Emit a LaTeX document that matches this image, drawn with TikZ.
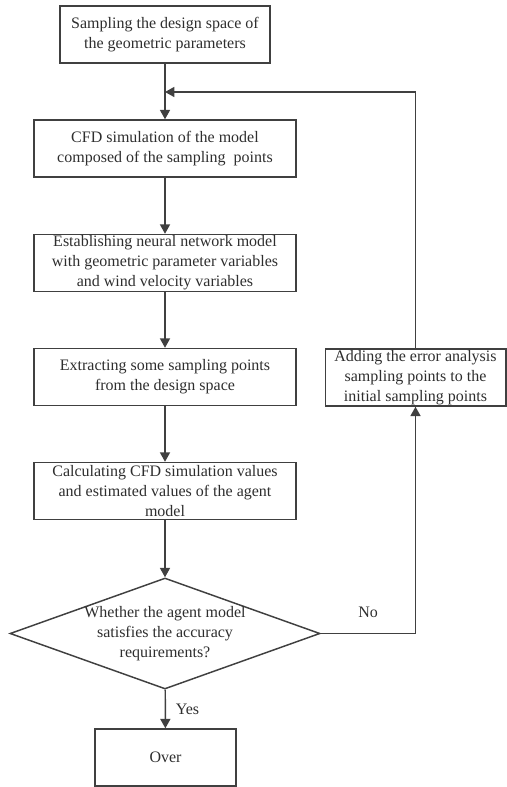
\documentclass[tikz,border=0pt]{standalone}
\usepackage{fontspec}
\setmainfont{Liberation Serif}
\usetikzlibrary{arrows.meta,shapes.geometric}
\definecolor{linegray}{HTML}{404040}
\definecolor{textgray}{HTML}{2E2E2E}
\tikzset{
  flowbox/.default={196.5pt},
  flowbox/.style = {draw=linegray, line width=1.1pt, text=textgray, align=center,
    inner sep=0pt, minimum width=#1, minimum height=42.75pt},
  flowline/.style = {draw=linegray, line width=1.1pt, -{Triangle[length=7pt,width=7.5pt]}},
  flowlabel/.style = {text=textgray}
}
\begin{document}
\begin{tikzpicture}[x=0.75pt,y=-0.75pt,font=\fontsize{12}{15}\selectfont]

  \useasboundingbox (0,0) rectangle (506,787);

  % main column
  \node[flowbox=157.5pt] (sample) at (165,34.5) {Sampling the design space of\\the geometric parameters};
  \node[flowbox] (cfd) at (165,148.5) {CFD simulation of the model\\composed of the sampling\ \ points};
  \node[flowbox] (neural) at (165,263) {Establishing neural network model\\with geometric parameter variables\\and wind velocity variables};
  \node[flowbox] (extract) at (165,377) {Extracting some sampling points\\from the design space};
  \node[flowbox] (calc) at (165,491) {Calculating CFD simulation values\\and estimated values of the agent\\model};

  \node[draw=linegray, line width=1.1pt, diamond, inner sep=0pt,
        minimum width=232.5pt, minimum height=83.25pt] (check) at (165,633.5) {};
  \node[flowlabel, align=center] (checktext) at (check.center) {Whether the agent model\\satisfies the accuracy\\requirements?};

  \node[flowbox=105.75pt] (over) at (165.5,757.5) {Over};

  % feedback branch
  \node[flowbox=135.4pt] (adding) at (415.5,377.5) {Adding the error analysis\\sampling points to the\\initial sampling points};
  \coordinate (merge) at (165,92);

  \foreach \a/\b in {sample/cfd, cfd/neural, neural/extract, extract/calc, calc/check}{
    \draw[flowline] (\a) -- (\b);
  }
  \draw[flowline] (check) -- node[flowlabel, right=4pt] {Yes} (over);
  \draw[flowline] (check.east) -- node[flowlabel, above=8pt] {No} (check.east -| adding.south) -- (adding.south);
  \draw[flowline] (adding.north) -- (adding.north |- merge) -- (merge);

\end{tikzpicture}
\end{document}
